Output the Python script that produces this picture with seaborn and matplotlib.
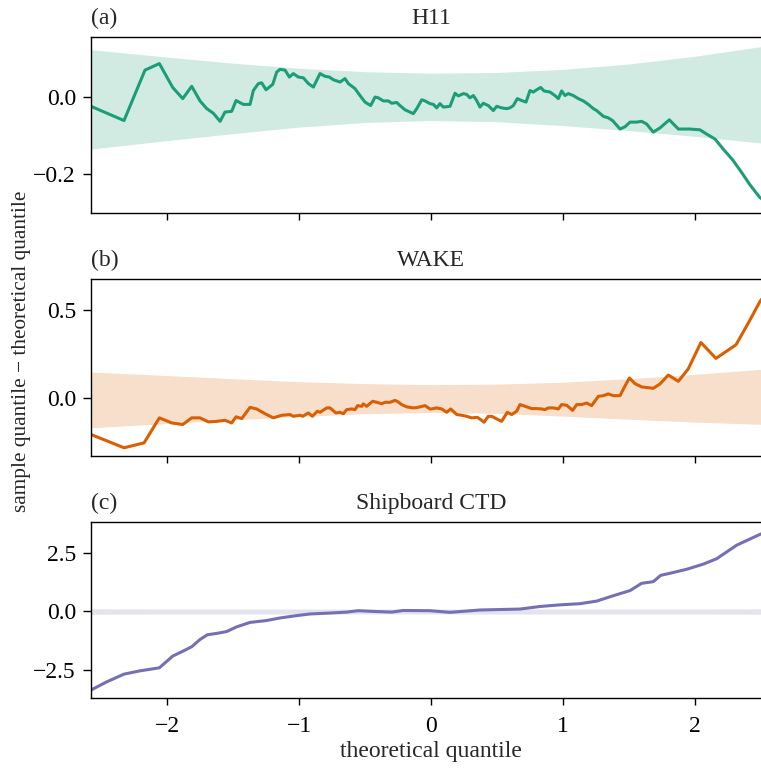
import matplotlib
matplotlib.use("Agg")
import matplotlib.pyplot as plt
import seaborn as sns
import pandas as pd

# Detrended normal Q-Q curves (sample quantile minus theoretical quantile)
h11_q = [-2.576, -2.326, -2.167, -2.058, -1.957, -1.881, -1.813, -1.750, -1.699, -1.649,
         -1.598, -1.561, -1.510, -1.477, -1.422, -1.371, -1.346, -1.308, -1.283, -1.250,
         -1.199, -1.169, -1.144, -1.106, -1.073, -1.043, -1.005, -0.967, -0.929, -0.891,
         -0.841, -0.803, -0.770, -0.740, -0.689, -0.652, -0.626, -0.576, -0.538, -0.500,
         -0.457, -0.424, -0.399, -0.361, -0.323, -0.298, -0.260, -0.235, -0.197, -0.159,
         -0.134, -0.108, -0.070, -0.045, -0.008, 0.018, 0.043, 0.068, 0.093, 0.144,
         0.182, 0.207, 0.245, 0.270, 0.295, 0.321, 0.346, 0.371, 0.396, 0.434,
         0.472, 0.498, 0.535, 0.573, 0.598, 0.624, 0.654, 0.687, 0.720, 0.750,
         0.775, 0.801, 0.831, 0.856, 0.902, 0.939, 0.965, 0.990, 1.015, 1.040,
         1.078, 1.116, 1.154, 1.192, 1.230, 1.255, 1.306, 1.343, 1.376, 1.432,
         1.470, 1.508, 1.558, 1.596, 1.634, 1.684, 1.735, 1.806, 1.874, 1.962,
         2.038, 2.088, 2.152, 2.214, 2.290, 2.354, 2.417, 2.492, 2.576]
h11_d = [-0.024, -0.061, 0.070, 0.087, 0.025, -0.004, 0.028, -0.010, -0.030, -0.042,
         -0.063, -0.039, -0.037, -0.009, -0.019, -0.019, 0.017, 0.035, 0.037, 0.019,
         0.033, 0.065, 0.072, 0.070, 0.052, 0.061, 0.052, 0.050, 0.035, 0.026,
         0.061, 0.054, 0.052, 0.045, 0.039, 0.048, 0.035, 0.022, 0.004, -0.013,
         -0.022, 0.000, -0.002, -0.010, -0.010, -0.016, -0.014, -0.022, -0.033, -0.039,
         -0.043, -0.030, -0.007, -0.010, -0.017, -0.019, -0.028, -0.017, -0.026, -0.024,
         0.010, 0.003, 0.009, 0.007, -0.002, 0.004, -0.009, -0.026, -0.016, -0.022,
         -0.035, -0.024, -0.028, -0.030, -0.028, -0.022, -0.004, -0.009, -0.013, 0.017,
         0.013, 0.019, 0.025, 0.016, 0.013, 0.004, -0.004, 0.016, 0.004, 0.009,
         0.004, -0.004, -0.010, -0.019, -0.030, -0.035, -0.050, -0.054, -0.061, -0.083,
         -0.077, -0.065, -0.065, -0.063, -0.070, -0.091, -0.080, -0.059, -0.083, -0.083,
         -0.085, -0.096, -0.109, -0.135, -0.165, -0.196, -0.228, -0.261, -0.280]

wake_q = [-2.576, -2.326, -2.174, -2.058, -1.964, -1.881, -1.813, -1.750, -1.687, -1.624,
          -1.561, -1.510, -1.477, -1.434, -1.371, -1.321, -1.258, -1.195, -1.131, -1.068,
          -1.043, -0.992, -0.972, -0.929, -0.899, -0.861, -0.841, -0.790, -0.765, -0.720,
          -0.689, -0.664, -0.639, -0.601, -0.576, -0.556, -0.525, -0.513, -0.487, -0.442,
          -0.411, -0.374, -0.348, -0.311, -0.273, -0.248, -0.222, -0.184, -0.134, -0.108,
          -0.083, -0.045, -0.008, 0.005, 0.043, 0.081, 0.119, 0.149, 0.195, 0.233,
          0.270, 0.308, 0.351, 0.384, 0.402, 0.434, 0.460, 0.498, 0.535, 0.578,
          0.611, 0.649, 0.674, 0.725, 0.763, 0.801, 0.838, 0.864, 0.889, 0.927,
          0.965, 0.990, 1.028, 1.073, 1.104, 1.141, 1.179, 1.217, 1.268, 1.306,
          1.343, 1.381, 1.432, 1.462, 1.503, 1.545, 1.596, 1.684, 1.735, 1.798,
          1.874, 1.949, 2.045, 2.159, 2.311, 2.404, 2.492, 2.576]
wake_d = [-0.209, -0.285, -0.257, -0.114, -0.143, -0.152, -0.114, -0.114, -0.137, -0.134,
          -0.128, -0.143, -0.108, -0.118, -0.054, -0.063, -0.090, -0.114, -0.099, -0.095,
          -0.105, -0.099, -0.105, -0.086, -0.105, -0.076, -0.082, -0.057, -0.057, -0.086,
          -0.082, -0.090, -0.067, -0.063, -0.067, -0.044, -0.048, -0.034, -0.048, -0.019,
          -0.025, -0.033, -0.025, -0.025, -0.014, -0.023, -0.038, -0.051, -0.057, -0.055,
          -0.051, -0.044, -0.063, -0.063, -0.057, -0.063, -0.082, -0.063, -0.095, -0.099,
          -0.105, -0.114, -0.111, -0.128, -0.139, -0.105, -0.105, -0.120, -0.134, -0.082,
          -0.095, -0.076, -0.038, -0.051, -0.061, -0.061, -0.063, -0.067, -0.057, -0.057,
          -0.063, -0.038, -0.042, -0.071, -0.038, -0.038, -0.029, -0.044, 0.009, 0.013,
          0.023, 0.013, 0.013, 0.057, 0.114, 0.082, 0.063, 0.055, 0.080, 0.131,
          0.095, 0.166, 0.317, 0.226, 0.304, 0.428, 0.551, 0.635]

ctd_q = [-2.576, -2.457, -2.326, -2.205, -2.058, -1.957, -1.876, -1.813, -1.750, -1.695,
         -1.624, -1.548, -1.472, -1.371, -1.245, -1.144, -1.018, -0.917, -0.765, -0.639,
         -0.551, -0.437, -0.298, -0.210, -0.008, 0.144, 0.371, 0.674, 0.826, 0.977,
         1.129, 1.255, 1.381, 1.508, 1.596, 1.684, 1.740, 1.811, 1.937, 2.063,
         2.164, 2.316, 2.492, 2.576]
ctd_d = [-3.36, -3.01, -2.68, -2.54, -2.41, -1.91, -1.69, -1.51, -1.20, -1.00,
         -0.94, -0.86, -0.66, -0.47, -0.39, -0.28, -0.18, -0.11, -0.07, -0.03,
         0.03, 0.00, -0.03, 0.04, 0.03, -0.04, 0.06, 0.10, 0.21, 0.28,
         0.33, 0.44, 0.67, 0.89, 1.20, 1.27, 1.54, 1.63, 1.80, 2.02,
         2.25, 2.83, 3.29, 3.48]

# Confidence envelopes
band_q = [-2.576, -2.0, -1.5, -1.0, -0.5, 0.0, 0.5, 1.0, 1.5, 2.0, 2.576]
h11_lo = [-0.135, -0.113, -0.095, -0.078, -0.066, -0.061, -0.064, -0.074, -0.087, -0.102, -0.122]
h11_hi = [0.123, 0.104, 0.088, 0.075, 0.066, 0.062, 0.064, 0.072, 0.086, 0.106, 0.135]
wake_lo = [-0.171, -0.146, -0.125, -0.106, -0.090, -0.083, -0.088, -0.104, -0.122, -0.138, -0.153]
wake_hi = [0.148, 0.128, 0.110, 0.093, 0.082, 0.076, 0.079, 0.090, 0.110, 0.135, 0.168]
ctd_lo = [-0.12, -0.11, -0.11, -0.11, -0.11, -0.11, -0.11, -0.11, -0.11, -0.11, -0.12]
ctd_hi = [0.11, 0.10, 0.10, 0.10, 0.10, 0.10, 0.10, 0.10, 0.10, 0.10, 0.11]

titles = ["H11", "WAKE", "Shipboard CTD"]
letters = ["(a)", "(b)", "(c)"]
xticks = [-2, -1, 0, 1, 2]
yticks = [[-0.2, 0.0], [0.0, 0.5], [-2.5, 0.0, 2.5]]
ylims = [(-0.301, 0.156), (-0.332, 0.680), (-3.70, 3.82)]

sns.set_theme(style="ticks")
plt.rcParams.update({
    "font.family": ["Liberation Serif", "DejaVu Serif"],
    "mathtext.fontset": "stix",
    "font.size": 17,
    "xtick.labelsize": 17,
    "ytick.labelsize": 17,
    "axes.titlesize": 17,
    "axes.linewidth": 1.0,
    "xtick.major.size": 5.2,
    "ytick.major.size": 5.8,
    "xtick.major.width": 1.0,
    "ytick.major.width": 1.0,
    "xtick.major.pad": 7.5,
    "ytick.major.pad": 5.0,
    "xtick.direction": "out",
    "ytick.direction": "out",
    "axes.edgecolor": "black",
    "xtick.color": "black",
    "ytick.color": "black",
})

colors = sns.color_palette("Dark2", 3)

W, H = 761, 770
fig = plt.figure(figsize=(W / 100, H / 100), dpi=100)
left = 91 / W
width = 680 / W
tops = [37, 279, 522]
heights = [176, 177, 176]

panels = [(h11_q, h11_d, h11_lo, h11_hi),
          (wake_q, wake_d, wake_lo, wake_hi),
          (ctd_q, ctd_d, ctd_lo, ctd_hi)]

axes = []
for i, (q, d, lo, hi) in enumerate(panels):
    bottom = (H - tops[i] - heights[i]) / H
    ax = fig.add_axes([left, bottom, width, heights[i] / H])
    ax.fill_between(band_q, lo, hi, color=colors[i], alpha=0.2, linewidth=0)
    df = pd.DataFrame({"q": q, "d": d})
    sns.lineplot(data=df, x="q", y="d", ax=ax, color=colors[i], linewidth=2.2, sort=False)
    ax.set_xlim(-2.576, 2.576)
    ax.set_ylim(*ylims[i])
    ax.set_xticks(xticks)
    ax.set_yticks(yticks[i])
    ax.set_xlabel("")
    ax.set_ylabel("")
    ax.set_title(titles[i], pad=9)
    ax.set_title(letters[i], loc="left", pad=9)
    if i < 2:
        ax.tick_params(axis="x", labelbottom=False)
    axes.append(ax)

axes[2].set_xticklabels(["\u22122", "\u22121", "0", "1", "2"])
for ax, tk in zip(axes, yticks):
    ax.set_yticklabels([("\u2212" if t < 0 else "") + f"{abs(t):.1f}" for t in tk])

fig.text(22 / W, 1 - 351 / H, "sample quantile \u2212 theoretical quantile",
         rotation=90, ha="center", va="center", fontsize=15.3)
fig.text(431 / W, 1 - 757 / H, "theoretical quantile",
         ha="center", va="baseline", fontsize=17)

fig.savefig("out.png", dpi=100)
